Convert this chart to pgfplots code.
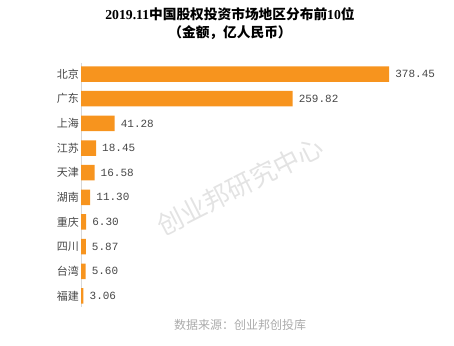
\documentclass[border=0pt]{standalone}
\usepackage{fontspec}
\setmainfont{Liberation Serif}
\setmonofont{Liberation Mono}
\newfontfamily\cjk{Noto Sans CJK SC}
\usepackage{pgfplots}
\pgfplotsset{compat=1.18}

\definecolor{barorange}{RGB}{247,148,30}
\definecolor{labelgray}{RGB}{70,70,70}
\definecolor{axisgray}{RGB}{215,215,215}

\begin{document}
\begin{tikzpicture}[x=1pt,y=1pt]
\path[use as bounding box] (0,0) rectangle (454,345);

% watermark
\node[rotate=27,text=black!11,font=\cjk\fontsize{26}{26}\selectfont] at (240,159) {创业邦研究中心};

% title
\node[font=\fontsize{13.7}{15}\selectfont\bfseries] at (230,331)
  {2019.11{\cjk 中国股权投资市场地区分布前}10{\cjk 位}};
\node[font=\cjk\fontsize{13.7}{15}\selectfont\bfseries] at (230,312) {（金额，亿人民币）};

\begin{axis}[
  at={(81pt,282pt)}, anchor=north west,
  scale only axis,
  width=342pt, height=244pt,
  xbar,
  bar width=15.5pt,
  xmin=0, xmax=420,
  ymin=-0.45, ymax=9.45,
  y dir=reverse,
  axis x line=none,
  axis y line=left,
  y axis line style={-,draw=axisgray,line width=0.8pt},
  ytick={0,...,9},
  yticklabels={北京,广东,上海,江苏,天津,湖南,重庆,四川,台湾,福建},
  yticklabel style={font=\cjk\fontsize{11}{11}\selectfont,text=labelgray,inner sep=2pt},
  major tick length=0pt,
  ytick style={draw=none},
  point meta=x,
  nodes near coords={\pgfmathprintnumber[fixed,fixed zerofill,precision=2,assume math mode=true]{\pgfplotspointmeta}},
  nodes near coords style={font=\ttfamily\fontsize{11}{11}\selectfont,text=labelgray,inner sep=0pt,xshift=6pt},
]
\addplot[fill=barorange,draw=none] coordinates {
(378.45,0)
(259.82,1)
(41.28,2)
(18.45,3)
(16.58,4)
(11.30,5)
(6.30,6)
(5.87,7)
(5.60,8)
(3.06,9)
};
\end{axis}

% source
\node[text=black!33,font=\cjk\fontsize{12}{12}\selectfont] at (240,20) {数据来源：创业邦创投库};
\end{tikzpicture}
\end{document}
